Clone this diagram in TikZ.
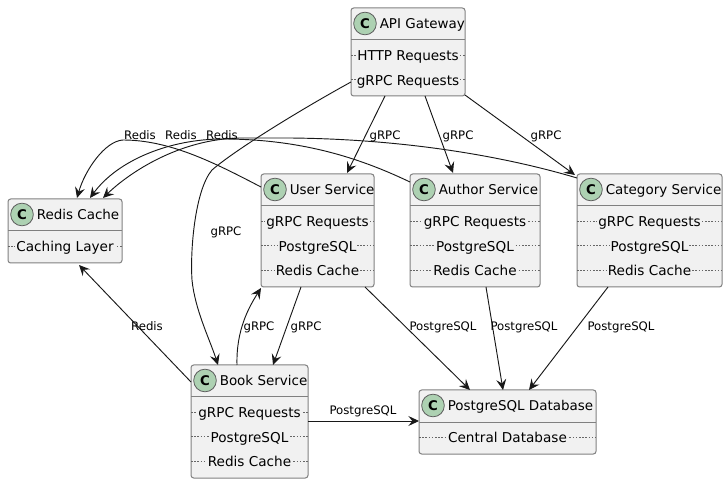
\documentclass[tikz,border=0pt]{standalone}
\usepackage{fontspec}
\setmainfont{DejaVu Sans}
\usetikzlibrary{arrows.meta,calc}
\definecolor{boxfill}{HTML}{F1F1F1}
\definecolor{boxline}{HTML}{808080}
\definecolor{spotfill}{HTML}{ADD1B2}
\definecolor{inkc}{HTML}{181818}
\tikzset{
  x=0.75pt,y=-0.75pt,
  classbox/.style={draw=boxline,fill=boxfill,line width=0.75pt,rounded corners=2pt,inner sep=0pt,outer sep=0pt},
  titletext/.style={anchor=base west,inner sep=0pt,font=\fontsize{10.1}{12}\selectfont,text=black},
  membertext/.style={fill=boxfill,inner xsep=0.8pt,inner ysep=0pt,text height=8.4pt,text depth=0pt,font=\fontsize{10.2}{12}\selectfont,text=black},
  spot/.style={circle,draw=inkc!70,fill=spotfill,line width=0.6pt,minimum size=17pt,inner sep=0pt,font=\fontsize{10}{12}\selectfont\bfseries,text=black},
  sepline/.style={draw=boxline,line width=0.75pt},
  dashline/.style={draw=boxline!80!black,line width=0.5pt,dash pattern=on 1.2pt off 1.2pt},
  conn/.style={draw=inkc,line width=0.7pt,-{Stealth[length=8pt,width=7.5pt,inset=3pt]}},
  edgelabel/.style={inner sep=0pt,text height=7pt,text depth=0pt,font=\fontsize{8.8}{11}\selectfont,text=black},
}
% id, x1, y1, x2, y2, title, member list
\newcommand{\classnode}[7]{
  \node[classbox,minimum width={(#4-#2)*0.75pt},minimum height={(#5-#3)*0.75pt}] (#1) at ({(#2+#4)/2},{(#3+#5)/2}) {};
  \node[spot] (#1-spot) at ($(#1.north west)+(14,15.5)$) {C};
  \node[titletext] (#1-title) at ($(#1.north west)+(28.5,20.5)$) {#6};
  \draw[sepline] ($(#1.north west)+(0,32)$) -- ($(#1.north east)+(0,32)$);
  \foreach \mtext [count=\mi] in {#7} {
    \pgfmathsetmacro{\my}{47+(\mi-1)*24.5}
    \draw[dashline] ($(#1.north west)+(0,\my)$) -- ($(#1.north east)+(0,\my)$);
    \node[membertext] (#1-m\mi) at ($(#1.north)+(0,\my)$) {\mtext};
  }
}
\begin{document}
\begin{tikzpicture}
\useasboundingbox (0,0) rectangle (728,484);
\classnode{api}{351}{8}{465}{96}{API Gateway}{HTTP Requests,gRPC Requests}
\classnode{redis}{8}{199}{122}{263}{Redis Cache}{Caching Layer}
\classnode{user}{261}{174}{374}{287}{User Service}{gRPC Requests,PostgreSQL,Redis Cache}
\classnode{author}{410}{174}{540}{287}{Author Service}{gRPC Requests,PostgreSQL,Redis Cache}
\classnode{category}{577}{174}{722}{287}{Category Service}{gRPC Requests,PostgreSQL,Redis Cache}
\classnode{book}{191}{365}{308}{478}{Book Service}{gRPC Requests,PostgreSQL,Redis Cache}
\classnode{pg}{419}{390}{596}{454}{PostgreSQL Database}{Central Database}

% API Gateway connectors
\draw[conn] ($(api.south west)+(34,0)$) -- ($(user.north west)+(86,-1)$);
\draw[conn] ($(api.south west)+(74,0)$) -- ($(author.north west)+(43,-1)$);
\draw[conn] ($(api.south east)+(0,-1)$) -- ($(category.north west)+(-2,1)$);
\draw[conn] ($(api.north west)+(0,74)$) .. controls ($(api.north west)+(-51,102)$) and ($(api.north west)+(-116,142)$) .. ($(api.north west)+(-139,162)$)
  .. controls ($(api.north west)+(-156,182)$) and ($(api.north west)+(-161,242)$) .. ($(api.north west)+(-159,272)$)
  .. controls ($(api.north west)+(-156,302)$) and ($(book.north west)+(19,-25)$) .. ($(book.north west)+(27,0)$);
% Redis connectors
\draw[conn] ($(user.north west)+(0,13)$) .. controls ($(user.north west)+(-46,-11)$) and ($(user.north west)+(-91,-34)$) .. ($(user.north west)+(-138,-34)$)
  .. controls ($(redis.north west)+(97,-58)$) and ($(redis.north west)+(77,-29)$) .. ($(redis.north west)+(69,-1)$);
\draw[conn] ($(author.north west)+(0,8)$) .. controls ($(author.north west)+(-40,-11)$) and ($(author.north west)+(-100,-35)$) .. ($(author.north west)+(-187,-35)$)
  .. controls ($(redis.north west)+(162,-60)$) and ($(redis.north west)+(110,-39)$) .. ($(redis.north west)+(82,-1)$);
\draw[conn] ($(category.north west)+(0,4)$) .. controls ($(category.north west)+(-77,-19)$) and ($(category.north west)+(-177,-35)$) .. ($(category.north west)+(-287,-36)$)
  -- ($(redis.north west)+(232,-61)$)
  .. controls ($(redis.north west)+(172,-60)$) and ($(redis.north west)+(122,-27)$) .. ($(redis.north west)+(95,-1)$);
\draw[conn] ($(book.north west)+(0,17)$) -- ($(redis.south west)+(71,2)$);
% Book and User
\draw[conn] ($(book.north west)+(46,0)$) .. controls ($(book.north west)+(45,-35)$) and ($(user.south west)+(-12,20)$) .. ($(user.south west)+(0,1)$);
\draw[conn] ($(user.south west)+(40,0)$) -- ($(book.north west)+(82,0)$);
% PostgreSQL connectors
\draw[conn] ($(user.south west)+(104,0)$) -- ($(pg.north west)+(51,0)$);
\draw[conn] ($(author.south west)+(76,0)$) -- ($(pg.north west)+(84,0)$);
\draw[conn] ($(category.south west)+(31,0)$) -- ($(pg.north west)+(110,0)$);
\draw[conn] ($(book.north west)+(117,56)$) -- ($(pg.north west)+(0,31)$);

% labels
\node[edgelabel] (l1) at (385,135) {gRPC};
\node[edgelabel] (l2) at (458,135) {gRPC};
\node[edgelabel] (l3) at (546,135) {gRPC};
\node[edgelabel] (l4) at (226,231) {gRPC};
\node[edgelabel] (l5) at (140,135) {Redis};
\node[edgelabel] (l6) at (181,135) {Redis};
\node[edgelabel] (l7) at (222,135) {Redis};
\node[edgelabel] (l8) at (147,326) {Redis};
\node[edgelabel] (l9) at (259,326) {gRPC};
\node[edgelabel] (l10) at (306,326) {gRPC};
\node[edgelabel] (l11) at (443,326) {PostgreSQL};
\node[edgelabel] (l12) at (524,326) {PostgreSQL};
\node[edgelabel] (l13) at (621,326) {PostgreSQL};
\node[edgelabel] (l14) at (363,410) {PostgreSQL};
\end{tikzpicture}
\end{document}
